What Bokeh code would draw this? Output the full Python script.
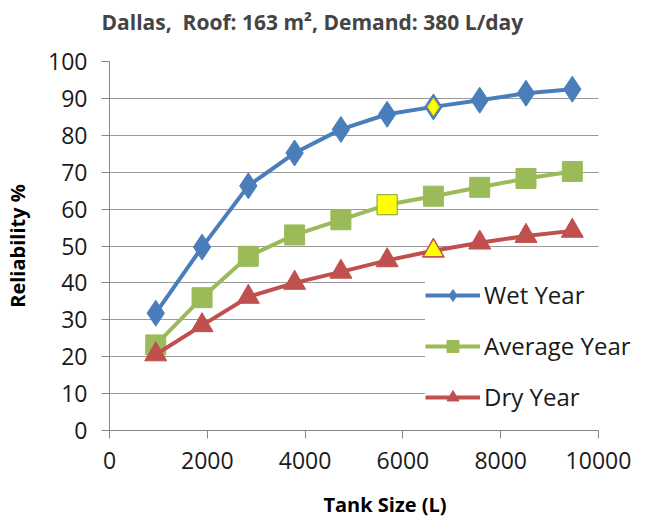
from bokeh.plotting import figure
from bokeh.models import (Range1d, SingleIntervalTicker, Legend, LegendItem, Title)
from bokeh.embed import file_html
from bokeh.resources import INLINE

# Tank sizes (250 to 2500 US gallons, in litres)
tank_size = [946, 1893, 2839, 3785, 4732, 5678, 6624, 7571, 8517, 9464]

# Reliability (%) for each rainfall year
wet_year = [31.8, 49.7, 66.3, 75.2, 81.6, 85.7, 87.7, 89.5, 91.4, 92.5]
average_year = [23.2, 36.0, 47.2, 53.0, 57.1, 61.2, 63.5, 65.9, 68.3, 70.2]
dry_year = [20.6, 28.5, 36.2, 40.0, 43.0, 46.1, 48.7, 50.9, 52.7, 54.1]

# Index of the highlighted point in each series
wet_hi = 6
avg_hi = 5
dry_hi = 6

X_MAX = 10000
BLUE = "#4A7EBB"
GREEN = "#9BBB59"
RED = "#C0504D"
YELLOW = "#FFFF00"
GRID = "#9A9A9A"
FONT = "Open Sans"

# The frame runs a little past 10000 so the legend can hang over the right
# edge; the axis and the grid lines stop at 10000.
p = figure(width=667, height=520, output_backend="svg", toolbar_location=None,
           x_range=Range1d(0, X_MAX * 551 / 489), y_range=Range1d(0, 100),
           min_border_left=109, min_border_right=7,
           min_border_top=60, min_border_bottom=89,
           title="Dallas,\u00a0 Roof: 163 m\u00b2, Demand: 380 L/day")
p.outline_line_color = None
p.background_fill_color = "white"

p.title.text_font = FONT
p.title.text_font_size = "21px"
p.title.text_font_style = "bold"
p.title.align = "left"
p.title.offset = -8

# empty title row that keeps the heading clear of the plot area
p.add_layout(Title(text=" ", text_font_size="8px"), "above")

# axes
for ax in (p.xaxis[0], p.yaxis[0]):
    ax.axis_line_color = "#868686"
    ax.major_tick_line_color = "#868686"
    ax.major_tick_out = 8
    ax.major_tick_in = 0
    ax.minor_tick_line_color = None
    ax.major_label_text_font = FONT
    ax.major_label_text_font_size = "23px"
    ax.major_label_text_color = "#1a1a1a"
    ax.axis_label_text_font = FONT
    ax.axis_label_text_font_size = "20px"
    ax.axis_label_text_font_style = "bold"
    ax.axis_label_text_color = "black"

p.xaxis[0].ticker = SingleIntervalTicker(interval=2000)
p.xaxis[0].bounds = (0, X_MAX)
p.yaxis[0].ticker = SingleIntervalTicker(interval=10)
p.xaxis[0].axis_label = "Tank Size (L)"
p.yaxis[0].axis_label = "Reliability %"
p.xaxis[0].major_label_standoff = 13
p.yaxis[0].major_label_standoff = 14
p.xaxis[0].axis_label_standoff = 19
p.yaxis[0].axis_label_standoff = 14

p.xgrid.grid_line_color = None
p.ygrid.ticker = SingleIntervalTicker(interval=10)
p.ygrid.grid_line_color = GRID
p.ygrid.grid_line_width = 1
p.ygrid.cross_bounds = (0, X_MAX)

# series
wl = p.line(tank_size, wet_year, line_color=BLUE, line_width=4)
ws = p.scatter(tank_size, wet_year, marker="diamond", size=26,
               fill_color=BLUE, line_color=BLUE)
al = p.line(tank_size, average_year, line_color=GREEN, line_width=4)
as_ = p.scatter(tank_size, average_year, marker="square", size=20,
                fill_color=GREEN, line_color=GREEN)
dl = p.line(tank_size, dry_year, line_color=RED, line_width=4)
ds = p.scatter(tank_size, dry_year, marker="triangle", size=22,
               fill_color=RED, line_color=RED)

# highlighted points
p.scatter([tank_size[wet_hi]], [wet_year[wet_hi]], marker="diamond", size=18,
          fill_color=YELLOW, line_color="#C8C800", line_width=1)
p.scatter([tank_size[avg_hi]], [average_year[avg_hi]], marker="square", size=20,
          fill_color=YELLOW, line_color="#8EAA4E", line_width=1)
p.scatter([tank_size[dry_hi]], [dry_year[dry_hi]], marker="triangle", size=20,
          fill_color=YELLOW, line_color=RED, line_width=1)

legend = Legend(items=[
    LegendItem(label="Wet Year", renderers=[wl, ws]),
    LegendItem(label="Average Year", renderers=[al, as_]),
    LegendItem(label="Dry Year", renderers=[dl, ds]),
], location=(316, 17))
legend.label_text_font = FONT
legend.label_text_font_size = "24px"
legend.label_text_color = "#1a1a1a"
legend.glyph_width = 55
legend.glyph_height = 30
legend.label_height = 30
legend.label_standoff = 4
legend.spacing = 18
legend.padding = 6
legend.margin = 0
legend.border_line_color = None
legend.background_fill_color = "white"
legend.background_fill_alpha = 1.0
p.add_layout(legend)

open("out.html", "w").write(file_html(p, INLINE))
